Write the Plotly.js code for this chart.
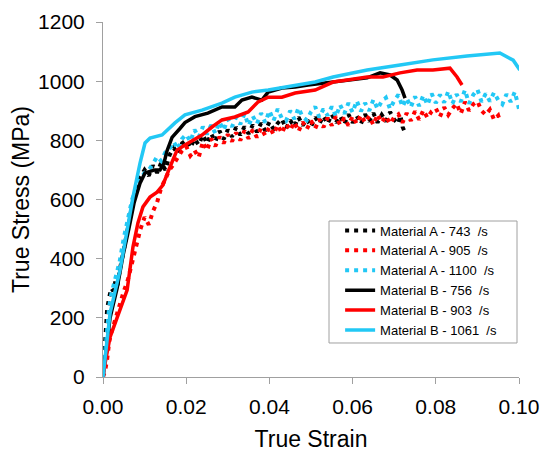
<!DOCTYPE html>
<html>
<head>
<meta charset="utf-8">
<script src="https://cdn.plot.ly/plotly-3.0.1.min.js"></script>
<style>
  html, body { margin: 0; padding: 0; background: #fff; }
  #chart { width: 542px; height: 452px; }
</style>
</head>
<body>
<div id="chart"></div>
<script>
// Stress-strain curves, Material A (dotted, noisy) and Material B (solid)

const seriesNames = [
  'Material A - 743\u00a0\u00a0/s',
  'Material A - 905\u00a0\u00a0/s',
  'Material A - 1100\u00a0\u00a0/s',
  'Material B - 756\u00a0\u00a0/s',
  'Material B - 903\u00a0\u00a0/s',
  'Material B - 1061\u00a0\u00a0/s'
];

// Material A - 743 /s
const strainA743 = [0, 0.0005, 0.001, 0.0015, 0.002, 0.0025, 0.003, 0.0035, 0.004, 0.005, 0.006, 0.007, 0.008, 0.009,
  0.010, 0.011, 0.012, 0.013, 0.014, 0.015, 0.016, 0.017, 0.018, 0.019, 0.020, 0.021, 0.022, 0.023, 0.024, 0.025,
  0.026, 0.027, 0.028, 0.029, 0.030, 0.031, 0.032, 0.033, 0.034, 0.035, 0.036, 0.037, 0.038, 0.039, 0.040, 0.041,
  0.042, 0.043, 0.044, 0.045, 0.046, 0.047, 0.048, 0.049, 0.050, 0.051, 0.052, 0.053, 0.054, 0.055, 0.056, 0.057,
  0.058, 0.059, 0.060, 0.061, 0.062, 0.063, 0.064, 0.065, 0.066, 0.067, 0.068, 0.069, 0.070, 0.071, 0.0715, 0.072, 0.0726];
const stressA743 = [0, 150, 230, 270, 300, 290, 325, 310, 360, 430, 510, 580, 640, 675,
  700, 680, 715, 690, 725, 700, 750, 775, 755, 790, 800, 775, 805, 785, 818, 790,
  822, 796, 832, 804, 836, 812, 844, 818, 846, 822, 852, 828, 858, 832, 862, 838,
  858, 872, 840, 868, 846, 878, 850, 872, 846, 878, 856, 882, 856, 888, 860, 882,
  854, 888, 860, 882, 856, 888, 864, 892, 860, 886, 864, 896, 870, 856, 884, 846, 826];

// Material A - 905 /s
const strainA905 = [0, 0.0005, 0.001, 0.0015, 0.002, 0.003, 0.004, 0.005, 0.006, 0.007, 0.008, 0.009,
  0.010, 0.011, 0.012, 0.013, 0.014, 0.015, 0.016, 0.017, 0.018, 0.019, 0.020, 0.021, 0.022, 0.023, 0.024, 0.025,
  0.026, 0.027, 0.028, 0.029, 0.030, 0.031, 0.032, 0.033, 0.034, 0.035, 0.036, 0.037, 0.038, 0.039, 0.040, 0.041,
  0.042, 0.043, 0.044, 0.045, 0.046, 0.047, 0.048, 0.049, 0.050, 0.051, 0.052, 0.053, 0.054, 0.055, 0.056, 0.057,
  0.058, 0.059, 0.060, 0.061, 0.062, 0.063, 0.064, 0.065, 0.066, 0.067, 0.068, 0.069, 0.070, 0.071, 0.072, 0.073,
  0.074, 0.075, 0.076, 0.077, 0.078, 0.079, 0.080, 0.081, 0.082, 0.083, 0.084, 0.085, 0.086, 0.087, 0.088, 0.089,
  0.090, 0.091, 0.092, 0.093, 0.094, 0.095, 0.0955];
const stressA905 = [0, 20, 60, 120, 150, 200, 250, 290, 330, 390, 450, 500,
  540, 515, 560, 590, 640, 670, 700, 720, 745, 765, 780, 748, 766, 742, 795, 766,
  806, 780, 812, 790, 820, 796, 826, 800, 832, 806, 836, 810, 842, 816, 846, 820,
  852, 824, 856, 834, 862, 830, 862, 838, 866, 840, 872, 844, 876, 850, 882, 852,
  876, 850, 882, 856, 886, 860, 882, 852, 888, 860, 882, 856, 878, 888, 860, 892,
  866, 898, 870, 902, 876, 898, 908, 880, 912, 886, 908, 924, 890, 930, 900, 922,
  932, 900, 886, 904, 870, 884, 862];

// Material A - 1100 /s
const strainA1100 = [0, 0.0005, 0.001, 0.0015, 0.002, 0.003, 0.004, 0.005, 0.006, 0.007, 0.008, 0.009,
  0.010, 0.011, 0.012, 0.013, 0.014, 0.015, 0.016, 0.017, 0.018, 0.019, 0.020, 0.021, 0.022, 0.023, 0.024, 0.025,
  0.026, 0.027, 0.028, 0.029, 0.030, 0.031, 0.032, 0.033, 0.034, 0.035, 0.036, 0.037, 0.038, 0.039, 0.040, 0.041,
  0.042, 0.043, 0.044, 0.045, 0.046, 0.047, 0.048, 0.049, 0.050, 0.051, 0.052, 0.053, 0.054, 0.055, 0.056, 0.057,
  0.058, 0.059, 0.060, 0.061, 0.062, 0.063, 0.064, 0.065, 0.066, 0.067, 0.068, 0.069, 0.070, 0.071, 0.072, 0.073,
  0.074, 0.075, 0.076, 0.077, 0.078, 0.079, 0.080, 0.081, 0.082, 0.083, 0.084, 0.085, 0.086, 0.087, 0.088, 0.089,
  0.090, 0.091, 0.092, 0.093, 0.094, 0.095, 0.096, 0.097, 0.098, 0.099, 0.100];
const stressA1100 = [0, 90, 180, 240, 280, 330, 390, 470, 540, 600, 640, 670,
  690, 700, 720, 745, 730, 760, 772, 795, 770, 805, 820, 796, 836, 810, 846, 820,
  852, 824, 862, 834, 872, 846, 878, 854, 890, 850, 882, 856, 892, 860, 900, 866,
  906, 874, 866, 900, 872, 910, 878, 868, 896, 914, 878, 906, 884, 914, 880, 920,
  890, 926, 894, 934, 898, 926, 900, 938, 906, 932, 944, 906, 934, 954, 914, 942,
  912, 948, 916, 952, 920, 958, 926, 954, 928, 966, 924, 956, 930, 970, 924, 954,
  972, 930, 958, 932, 962, 936, 922, 956, 930, 964, 906];

// Material B - 756 /s
const strainB756 = [0, 0.0003, 0.0017, 0.0034, 0.0048, 0.0062, 0.0075, 0.0089, 0.0101, 0.0113, 0.0125, 0.0137,
  0.0146, 0.0154, 0.0166, 0.0185, 0.0197, 0.0221, 0.0252, 0.0286, 0.0317, 0.0334, 0.0358, 0.0382, 0.0397, 0.043,
  0.0462, 0.0493, 0.0553, 0.0600, 0.0635, 0.0666, 0.069, 0.0707, 0.0719, 0.0726];
const stressB756 = [0, 40, 200, 300, 410, 500, 590, 655, 690, 695, 700, 700,
  720, 765, 810, 840, 860, 880, 892, 913, 913, 936, 946, 936, 963, 977,
  980, 987, 997, 1005, 1011, 1028, 1021, 1004, 970, 943];

// Material B - 903 /s
const strainB903 = [0, 0.0005, 0.0017, 0.0034, 0.0058, 0.0072, 0.0084, 0.0096, 0.0113, 0.013, 0.0144, 0.0161,
  0.0178, 0.0197, 0.0238, 0.0262, 0.0286, 0.0317, 0.0349, 0.0373, 0.0397, 0.043, 0.0462, 0.051, 0.0553, 0.0587,
  0.0635, 0.0673, 0.0714, 0.0755, 0.0793, 0.0834, 0.0851, 0.0863];
const stressB903 = [0, 47, 135, 203, 294, 439, 521, 575, 608, 625, 649, 710,
  767, 784, 818, 845, 869, 879, 896, 930, 946, 946, 960, 970, 997, 1004,
  1014, 1014, 1028, 1038, 1038, 1044, 1014, 987];

// Material B - 1061 /s
const strainB1061 = [0, 0.0005, 0.0017, 0.0041, 0.0072, 0.0089, 0.0101, 0.0113, 0.0142, 0.0173, 0.0197, 0.0238,
  0.0286, 0.0317, 0.0358, 0.0397, 0.0462, 0.051, 0.0553, 0.0635, 0.0714, 0.0793, 0.0875, 0.0954, 0.0986, 0.1002];
const stressB1061 = [0, 57, 216, 362, 608, 723, 791, 808, 818, 859, 886, 902,
  926, 946, 963, 970, 987, 997, 1014, 1038, 1055, 1072, 1085, 1095, 1071, 1038];

const xTickVals = [0, 0.02, 0.04, 0.06, 0.08, 0.10];
const xTickText = ['0.00', '0.02', '0.04', '0.06', '0.08', '0.10'];
const yTickVals = [0, 200, 400, 600, 800, 1000, 1200];
const yTickText = ['0', '200', '400', '600', '800', '1000', '1200'];

const strains = [strainA743, strainA905, strainA1100, strainB756, strainB903, strainB1061];
const stresses = [stressA743, stressA905, stressA1100, stressB756, stressB903, stressB1061];
const colors = ['#000000', '#ff0000', '#22c8f5', '#000000', '#ff0000', '#22c8f5'];
const dotted = [true, true, true, false, false, false];

const traces = seriesNames.map((name, i) => ({
  type: 'scatter',
  mode: 'lines',
  name: name,
  legendgroup: 'g' + i,
  x: strains[i],
  y: stresses[i],
  line: dotted[i]
    ? { color: colors[i], width: 4, dash: '4px,5px' }
    : { color: colors[i], width: 3.5 },
  hoverinfo: 'skip'
}));

const font = 'Arial, "Liberation Sans", sans-serif';

const layout = {
  width: 542,
  height: 452,
  margin: { l: 103, r: 23, t: 22, b: 75 },
  paper_bgcolor: '#ffffff',
  plot_bgcolor: '#ffffff',
  font: { family: font, color: '#000000' },
  showlegend: true,
  legend: {
    x: 0.57, y: 0.455, xanchor: 'left', yanchor: 'top',
    bgcolor: 'rgba(0,0,0,0)',
    borderwidth: 0,
    tracegroupgap: 0,
    font: { family: font, size: 13, color: '#000000' }
  },
  shapes: [{
    type: 'rect', xref: 'paper', yref: 'paper',
    x0: 0.5433, x1: 0.9952, y0: 0.0958, y1: 0.4394,
    line: { color: '#a0a0a0', width: 1 },
    fillcolor: 'rgba(0,0,0,0)',
    layer: 'below'
  }],
  xaxis: {
    range: [0, 0.1],
    tickvals: xTickVals,
    ticktext: xTickText,
    showgrid: false,
    zeroline: false,
    showline: true,
    linecolor: '#a0a0a0',
    linewidth: 1,
    ticks: 'outside',
    ticklen: 6,
    tickcolor: '#a0a0a0',
    ticklabelstandoff: 5,
    tickfont: { family: font, size: 21, color: '#000000' },
    title: { text: 'True Strain', font: { family: font, size: 23, color: '#000000' }, standoff: 13 }
  },
  yaxis: {
    range: [0, 1200],
    tickvals: yTickVals,
    ticktext: yTickText,
    showgrid: false,
    zeroline: false,
    showline: true,
    linecolor: '#a0a0a0',
    linewidth: 1,
    ticks: 'outside',
    ticklen: 6,
    tickcolor: '#a0a0a0',
    ticklabelstandoff: 7,
    tickfont: { family: font, size: 21, color: '#000000' },
    title: { text: 'True Stress (MPa)', font: { family: font, size: 23, color: '#000000' }, standoff: 2 }
  }
};

Plotly.newPlot('chart', traces, layout, { displayModeBar: false, staticPlot: true });
</script>
</body>
</html>
